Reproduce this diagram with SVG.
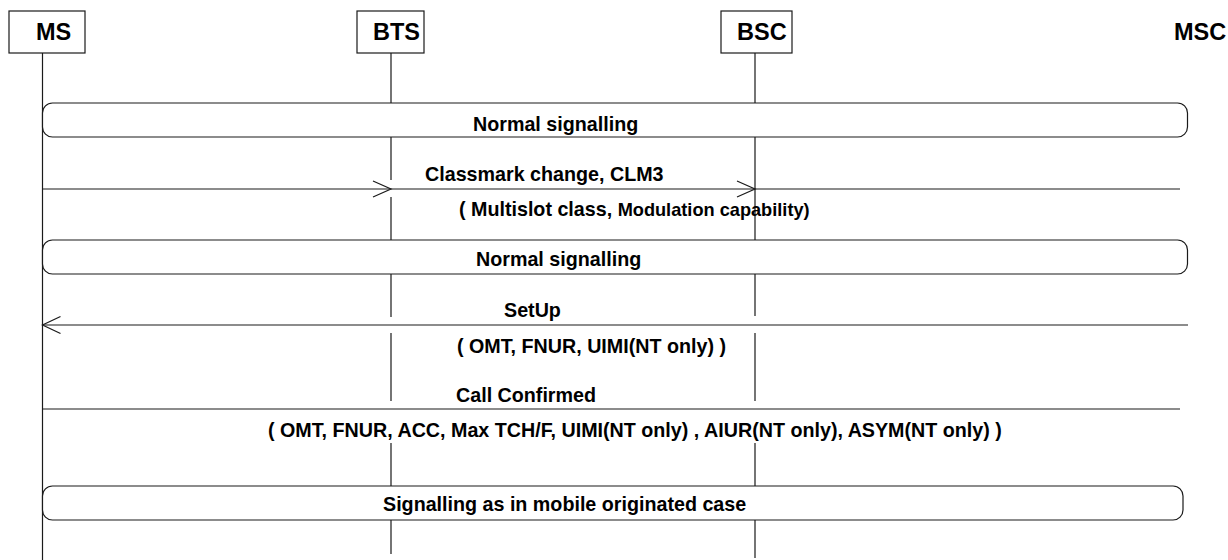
<svg xmlns="http://www.w3.org/2000/svg" width="1228" height="560" viewBox="0 0 1228 560">
<style>
  .ln { stroke: #1a1a1a; stroke-width: 1.2; fill: none; }
  .box { stroke: #1a1a1a; stroke-width: 1.2; fill: #ffffff; }
  .hd { font-family: "Liberation Sans", Arial, sans-serif; font-weight: bold; font-size: 23.5px; fill: #000; }
  .lb { font-family: "Liberation Sans", Arial, sans-serif; font-weight: bold; font-size: 19.7px; fill: #000; }
  .ah { stroke: #1a1a1a; stroke-width: 1.2; fill: none; }
</style>
<rect width="1228" height="560" fill="#ffffff"/>

<g id="lifelines">
  <line class="ln" x1="42.5" y1="53" x2="42.5" y2="560"/>
  <path class="ln" d="M391 53 V180 M391 197 V317 M391 333 V401 M391 443 V554"/>
  <path class="ln" d="M755 53 V316 M755 333 V401 M755 443 V558"/>
</g>

<g id="node-ms">
  <rect class="box" x="9" y="11" width="76" height="42"/>
  <text class="hd" x="36" y="39.5">MS</text>
</g>
<g id="node-bts">
  <rect class="box" x="357" y="11" width="67" height="42"/>
  <text class="hd" x="373" y="39.5">BTS</text>
</g>
<g id="node-bsc">
  <rect class="box" x="721" y="11" width="71" height="42"/>
  <text class="hd" x="737" y="39.5">BSC</text>
</g>
<g id="node-msc">
  <text class="hd" x="1174" y="39.5">MSC</text>
</g>

<g id="box-normal-1">
  <rect class="box" x="42.5" y="103" width="1145" height="34" rx="10" ry="10"/>
  <text class="lb" x="473" y="131">Normal signalling</text>
</g>

<g id="box-normal-2">
  <rect class="box" x="42.5" y="240" width="1145" height="34" rx="10" ry="10"/>
  <text class="lb" x="476" y="266">Normal signalling</text>
</g>

<g id="box-mo-case">
  <rect class="box" x="42.5" y="486" width="1140.5" height="34" rx="10" ry="10"/>
  <text class="lb" x="383" y="511">Signalling as in mobile originated case</text>
</g>

<g id="connectors">
  <line class="ln" x1="42.5" y1="189" x2="1180" y2="189"/>
  <path class="ah" d="M373 181 L391 189 L373 197"/>
  <path class="ah" d="M737 181 L755 189 L737 197"/>
  <line class="ln" x1="42.5" y1="325" x2="1188" y2="325"/>
  <path class="ah" d="M60.5 316.5 L42.5 325 L60.5 333.5"/>
  <line class="ln" x1="42.5" y1="409" x2="1180" y2="409"/>
</g>

<g id="labels">
  <text class="lb" x="425" y="181">Classmark change, CLM3</text>
  <text class="lb" x="459" y="216">( Multislot class, <tspan font-size="18.2px">Modulation capability)</tspan></text>
  <text class="lb" x="504" y="317">SetUp</text>
  <text class="lb" x="457" y="353">( OMT, FNUR, UIMI(NT only) )</text>
  <text class="lb" x="456" y="402">Call Confirmed</text>
  <text class="lb" x="268" y="437">( OMT, FNUR, ACC, Max TCH/F, UIMI(NT only) , AIUR(NT only), ASYM(NT only) )</text>
</g>
</svg>
